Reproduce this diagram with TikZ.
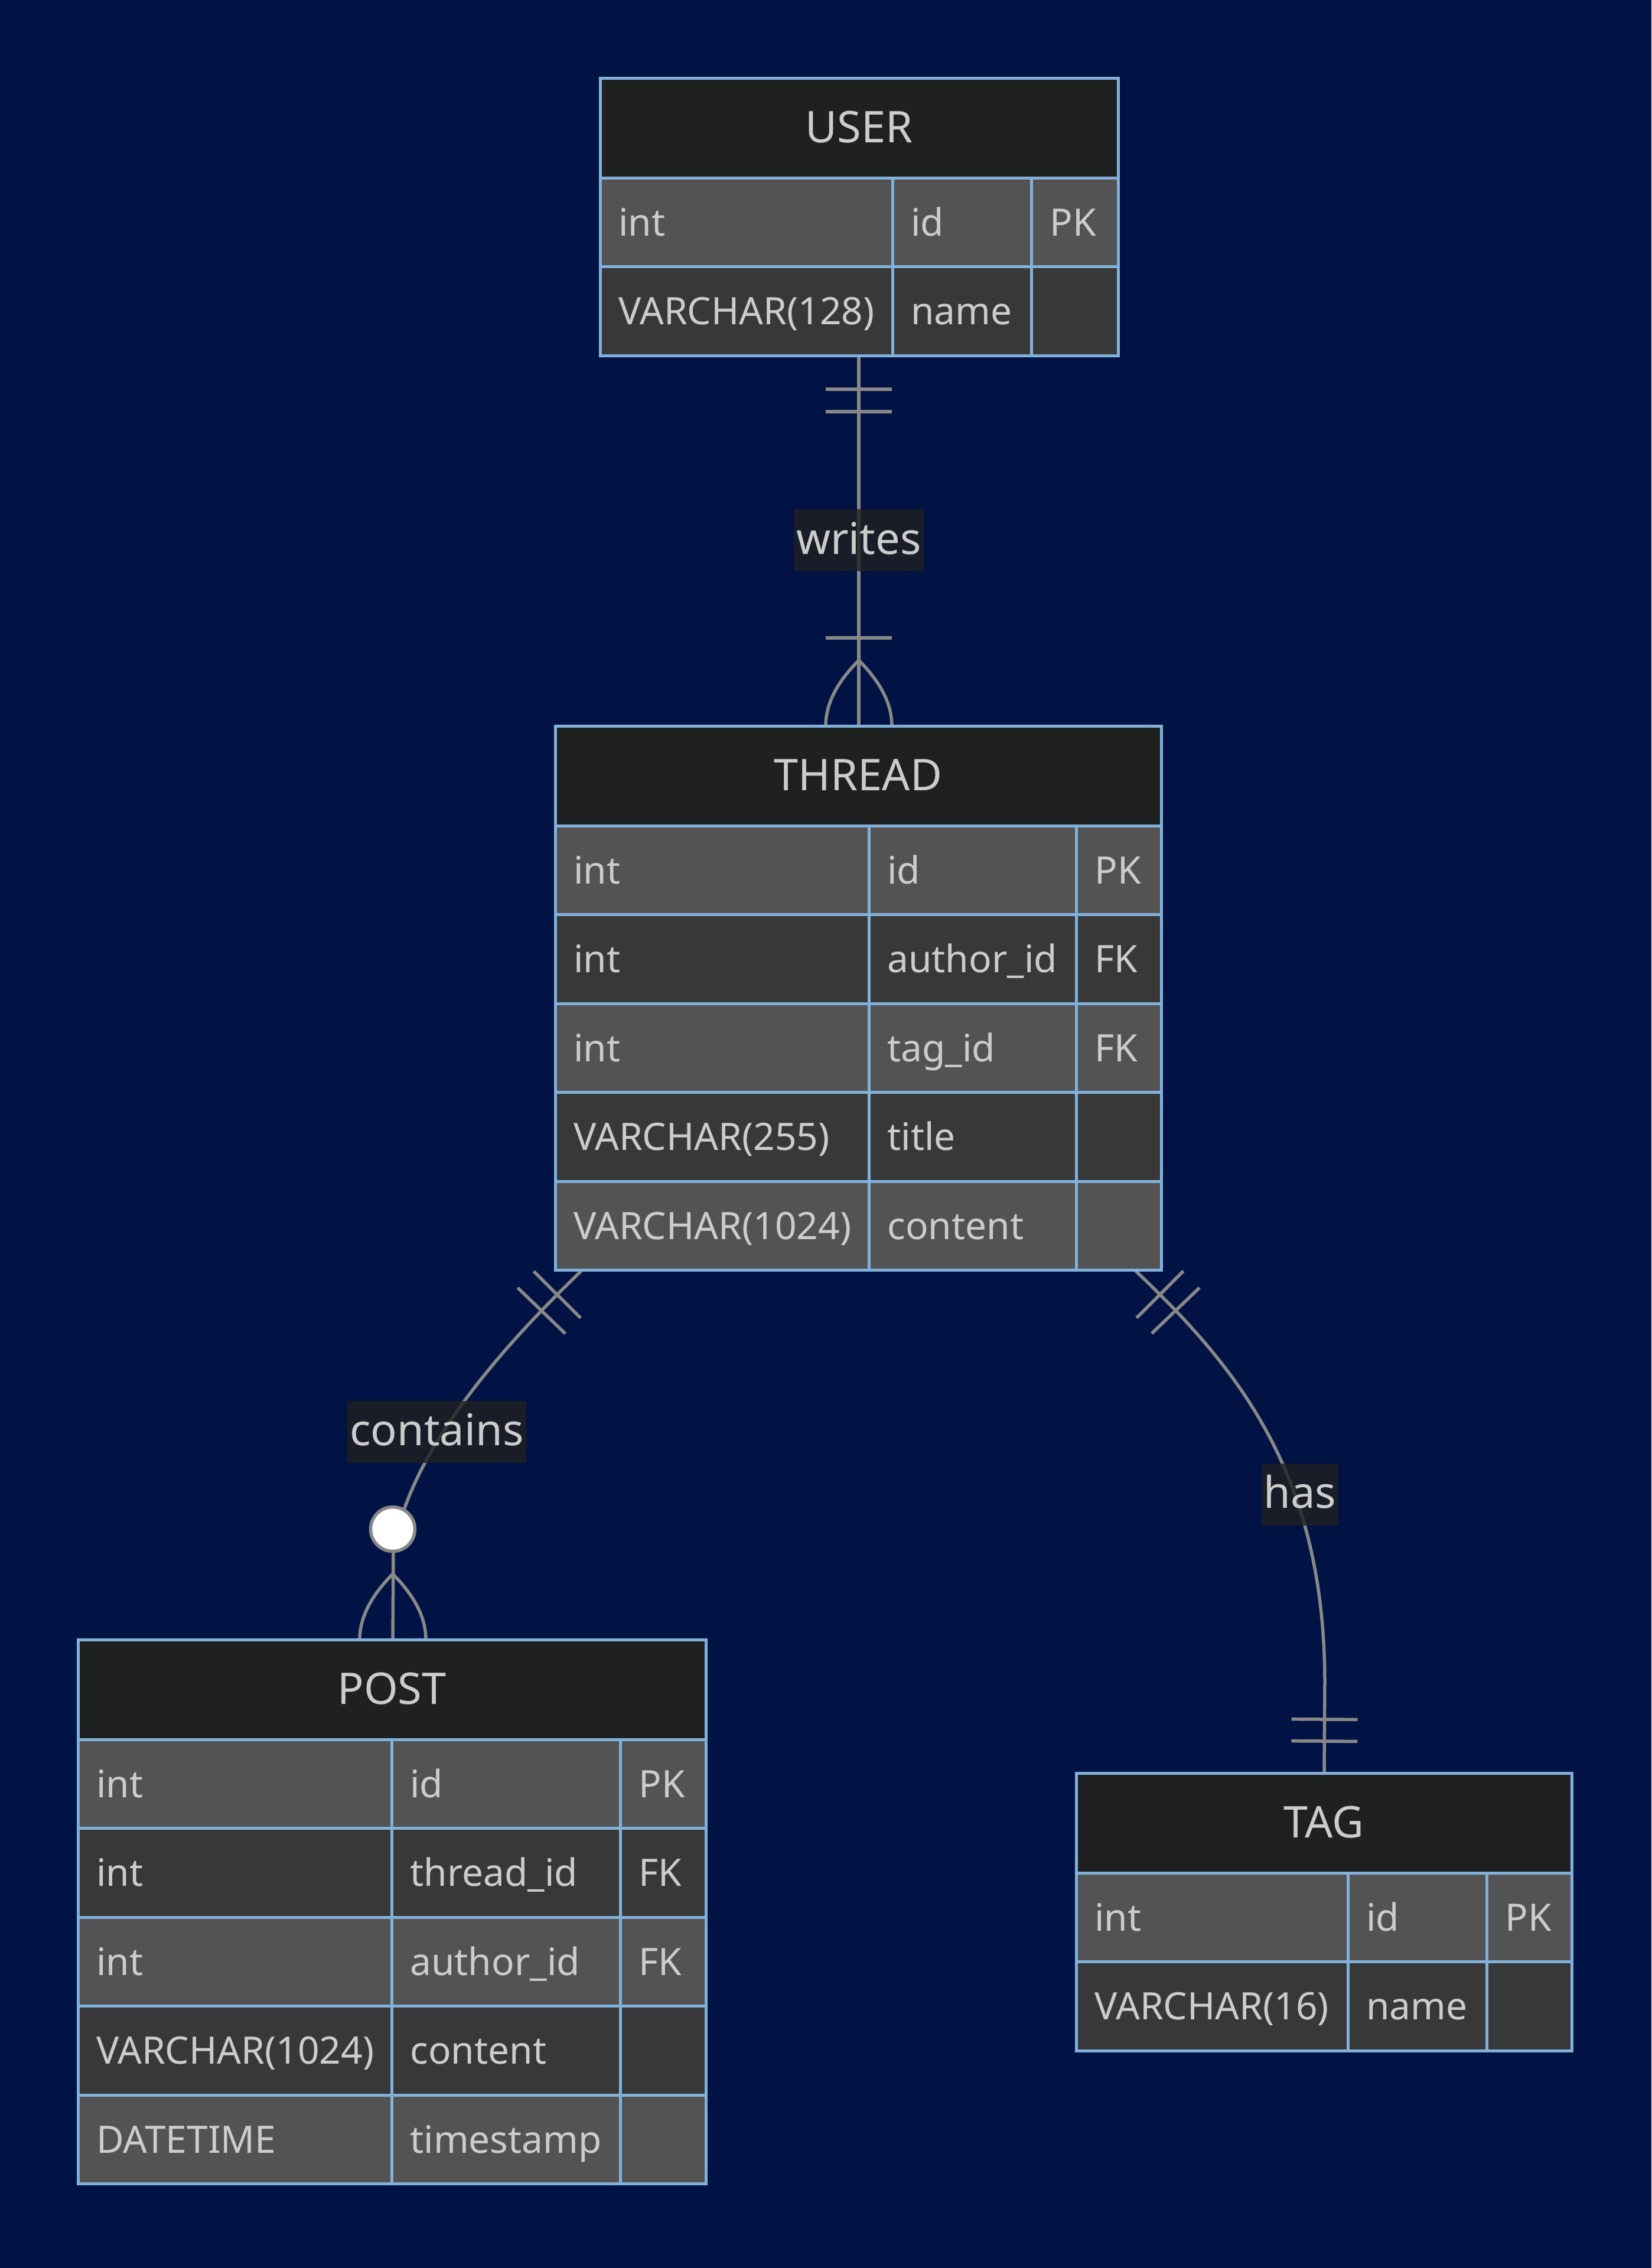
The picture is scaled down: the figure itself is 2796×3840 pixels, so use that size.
\documentclass[tikz,border=0pt]{standalone}
\usepackage{fontspec}
\setmainfont{Noto Sans}
\usetikzlibrary{calc,decorations.markings}
\definecolor{bgcol}{HTML}{011245}
\definecolor{hdrfill}{HTML}{1F2020}
\definecolor{rowA}{HTML}{535353}
\definecolor{rowB}{HTML}{383838}
\definecolor{edgecol}{HTML}{81B1DB}
\definecolor{txtcol}{HTML}{CCCCCC}
\definecolor{conncol}{HTML}{888888}
\definecolor{lblfill}{HTML}{1F2020}
\tikzset{
  ent/.style={draw=edgecol, line width=2.5pt},
  hdr/.style={ent, fill=hdrfill},
  rowa/.style={ent, fill=rowA},
  rowb/.style={ent, fill=rowB},
  ttl/.style={text=txtcol, inner sep=0pt, anchor=base, font=\fontsize{37pt}{44pt}\selectfont},
  cell/.style={text=txtcol, inner sep=0pt, anchor=base west, font=\fontsize{32pt}{38pt}\selectfont},
  conn/.style={draw=conncol, line width=2.75pt},
  lbl/.style={text=txtcol, fill=lblfill, fill opacity=0.8, text opacity=1, inner xsep=2pt, inner ysep=0pt, text height=38pt, text depth=14.5pt, font=\fontsize{37pt}{44pt}\selectfont},
  zerocirc/.style={circle, draw=conncol, fill=white, line width=2.75pt, minimum size=37.5pt, inner sep=0pt}
}
\newcommand\erbar{\draw[conn] (0pt,-28pt) -- (0pt,28pt);}
% #1 name, #2 title, #3 left, #4 top, #5 col1, #6 col2, #7 right, #8 rows
\newcommand\erentity[8]{%
  \path[hdr] (#3,#4) rectangle (#7,#4+169);
  \node[ttl] (#1-title) at ({(#3+#7)/2},{#4+84.5+25}) {#2};
  \foreach \ta/\tb/\tc [count=\i] in {#8} {
    \pgfmathsetmacro\ytop{#4+169+(\i-1)*150.5}
    \pgfmathsetmacro\ybot{\ytop+150.5}
    \pgfmathsetmacro\ybase{\ytop+75.25+23}
    \ifodd\i \tikzset{rowcur/.style={rowa}}\else\tikzset{rowcur/.style={rowb}}\fi
    \path[rowcur] (#3,\ytop) rectangle (#5,\ybot);
    \path[rowcur] (#5,\ytop) rectangle (#6,\ybot);
    \path[rowcur] (#6,\ytop) rectangle (#7,\ybot);
    \node[cell] (#1-\i-type) at (#3+31,\ybase) {\ta};
    \node[cell] (#1-\i-name) at (#5+31,\ybase) {\tb};
    \node[cell] (#1-\i-key) at (#6+31,\ybase) {\tc};
  }
}
\newcommand\crowfoot[1]{%
  \draw[conn] ($(#1)+(0,-111)$) .. controls +(-37.3,37.3) and +(0,-36.7) .. ($(#1)+(-56,0)$);
  \draw[conn] ($(#1)+(0,-111)$) .. controls +(37.3,37.3) and +(0,-36.7) .. ($(#1)+(56,0)$);
}
\begin{document}
\begin{tikzpicture}[x=0.5pt, y=-0.5pt]
\fill[bgcol] (0,0) rectangle (2796,3840);
\useasboundingbox (0,0) rectangle (2796,3840);

\coordinate (user-s) at (1454,602);
\coordinate (thread-n) at (1454,1229);
\coordinate (thread-sw) at (984,2152);
\coordinate (thread-se) at (1923,2152);
\coordinate (post-n) at (665,2776);
\coordinate (tag-n) at (2242,3002);

% writes
\draw[conn, postaction={decorate}, decoration={markings,
  mark=at position 28.5pt with {\erbar},
  mark=at position 47.5pt with {\erbar},
  mark=at position -74.5pt with {\erbar}}]
  (user-s) -- (thread-n);
\crowfoot{thread-n}

% contains
\draw[conn, postaction={decorate}, decoration={markings,
  mark=at position 28.5pt with {\erbar},
  mark=at position 47.5pt with {\erbar}}]
  (thread-sw) .. controls (874,2258) and (690,2450) .. (666,2630) -- (post-n);
\crowfoot{post-n}
\node[zerocirc] (post-zero) at ($(post-n)+(0,-187)$) {};

% has
\draw[conn, postaction={decorate}, decoration={markings,
  mark=at position 28.5pt with {\erbar},
  mark=at position 47.5pt with {\erbar},
  mark=at position -45.5pt with {\erbar},
  mark=at position -27pt with {\erbar}}]
  (thread-se) .. controls (2100,2320) and (2243,2500) .. (2243,2850) -- (tag-n);

% labels
\node[lbl] (lbl-writes) at (1454,914.5) {writes};
\node[lbl] (lbl-contains) at (739.5,2424) {contains};
\node[lbl] (lbl-has) at (2201,2530) {has};

% entities
\erentity{user}{USER}{1016}{132}{1511}{1746}{1893}{int/id/PK, VARCHAR(128)/name/{}}
\erentity{thread}{THREAD}{940}{1229}{1471}{1822}{1966}{int/id/PK, int/author\_id/FK, int/tag\_id/FK, VARCHAR(255)/title/{}, VARCHAR(1024)/content/{}}
\erentity{post}{POST}{132}{2776}{663}{1050}{1195}{int/id/PK, int/thread\_id/FK, int/author\_id/FK, VARCHAR(1024)/content/{}, DATETIME/timestamp/{}}
\erentity{tag}{TAG}{1822}{3002}{2282}{2517}{2661}{int/id/PK, VARCHAR(16)/name/{}}
\end{tikzpicture}
\end{document}
